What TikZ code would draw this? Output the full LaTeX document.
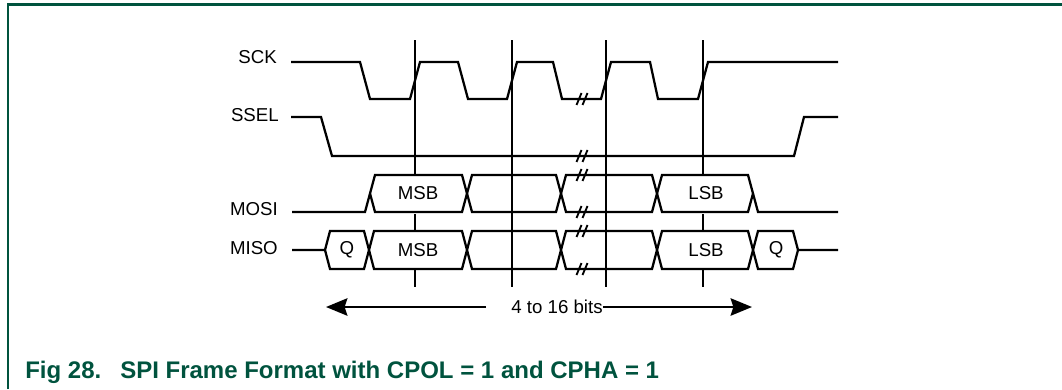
\documentclass[tikz,border=0pt]{standalone}
\usepackage{fontspec}
\setmainfont{Liberation Sans}
\usetikzlibrary{arrows.meta}
\definecolor{nxpgreen}{RGB}{0,83,62}
\newcommand\brkmark[2]{%
  \draw[brkline] (#1-5.5,#2+6) -- (#1-0.5,#2-6);
  \draw[brkline] (#1+0.5,#2+6) -- (#1+5.5,#2-6);}
\begin{document}
\begin{tikzpicture}[x=0.75pt,y=-0.75pt,
  sig/.style={line width=1.7pt},
  vline/.style={line width=1.4pt},
  brkline/.style={line width=1.4pt},
  lbl/.style={font=\fontsize{14}{16}\selectfont,inner sep=0pt,anchor=base east},
  cell/.style={font=\fontsize{14}{16}\selectfont,inner sep=0pt,fill=white,minimum height=30,minimum width=20},
  capt/.style={font=\fontsize{18}{20}\selectfont\bfseries,text=nxpgreen,inner sep=0pt,anchor=base west}]
\useasboundingbox (0,0) rectangle (1062,389);
% frame
\draw[nxpgreen,line width=1.6pt] (8,389) -- (8,4.5) -- (1062,4.5);
% vertical reference lines
\foreach \x/\n in {415/a,512/b,606/c,703/d}{
  \coordinate (\n t) at (\x,40);
  \coordinate (\n b) at (\x,287);
  \draw[vline] (\n t) -- (\n b);
}
% labels
\node[lbl] (sck) at (277,63) {SCK};
\node[lbl] (ssel) at (279,121) {SSEL};
\node[lbl] (mosi) at (278,215) {MOSI};
\node[lbl] (miso) at (278,254) {MISO};
% cell texts
\node[cell] (mosimsb) at (418,193.5) {MSB};
\node[cell] (mosilsb) at (706,193.5) {LSB};
\node[cell] (misomsb) at (418,250) {MSB};
\node[cell] (misolsb) at (706,250) {LSB};
\node[cell,fill=none] (q1) at (347,250) {Q};
\node[cell,fill=none] (q2) at (776,250) {Q};
% SCK
\draw[sig] (291,62) -- (360,62) -- (370,99) -- (410,99) -- (420,62) -- (458,62) -- (468,99)
  -- (507,99) -- (517,62) -- (553,62) -- (562,99) -- (601,99) -- (611,62) -- (650,62)
  -- (658,99) -- (698,99) -- (708,62) -- (838,62);
% SSEL
\draw[sig] (291,117) -- (321,117) -- (332,156) -- (794,156) -- (804,117) -- (838,117);
% MOSI
\draw[sig] (292,212) -- (365,212) -- (375,175) -- (462,175) -- (472,212) -- (556,212)
  -- (566,175) -- (652,175) -- (662,212) -- (748,212) -- (753,193.5);
\draw[sig] (370,193.5) -- (375,212) -- (462,212) -- (472,175) -- (556,175) -- (566,212)
  -- (652,212) -- (662,175) -- (748,175) -- (758,212) -- (838,212);
% MISO
\draw[sig] (292,250) -- (325,250) -- (330,231) -- (364,231) -- (374,269) -- (462,269)
  -- (472,231) -- (556,231) -- (566,269) -- (652,269) -- (662,231) -- (748,231)
  -- (758,269) -- (793,269) -- (798,250) -- (838,250);
\draw[sig] (325,250) -- (330,269) -- (364,269) -- (374,231) -- (462,231) -- (472,269)
  -- (556,269) -- (566,231) -- (652,231) -- (662,269) -- (748,269) -- (758,231)
  -- (793,231) -- (798,250);
% break marks
\foreach \y in {99,156,175,212,231,269}{\brkmark{582}{\y}}
% bits arrow
\node[font=\fontsize{14}{16}\selectfont,inner sep=0pt] (bits) at (557,307) {4 to 16 bits};
\coordinate (al) at (326,307);
\coordinate (ar) at (752,307);
\coordinate (lend) at (486,307);
\draw[sig,-{Stealth[length=16,width=13,inset=2]}] (lend) -- (al);
\draw[sig,-{Stealth[length=16,width=13,inset=2]}] (bits.east) -- (ar);
% caption
\node[capt] (fig) at (25,378) {Fig 28.};
\node[capt] (cap) at (120,378) {SPI Frame Format with CPOL = 1 and CPHA = 1};
\end{tikzpicture}
\end{document}
